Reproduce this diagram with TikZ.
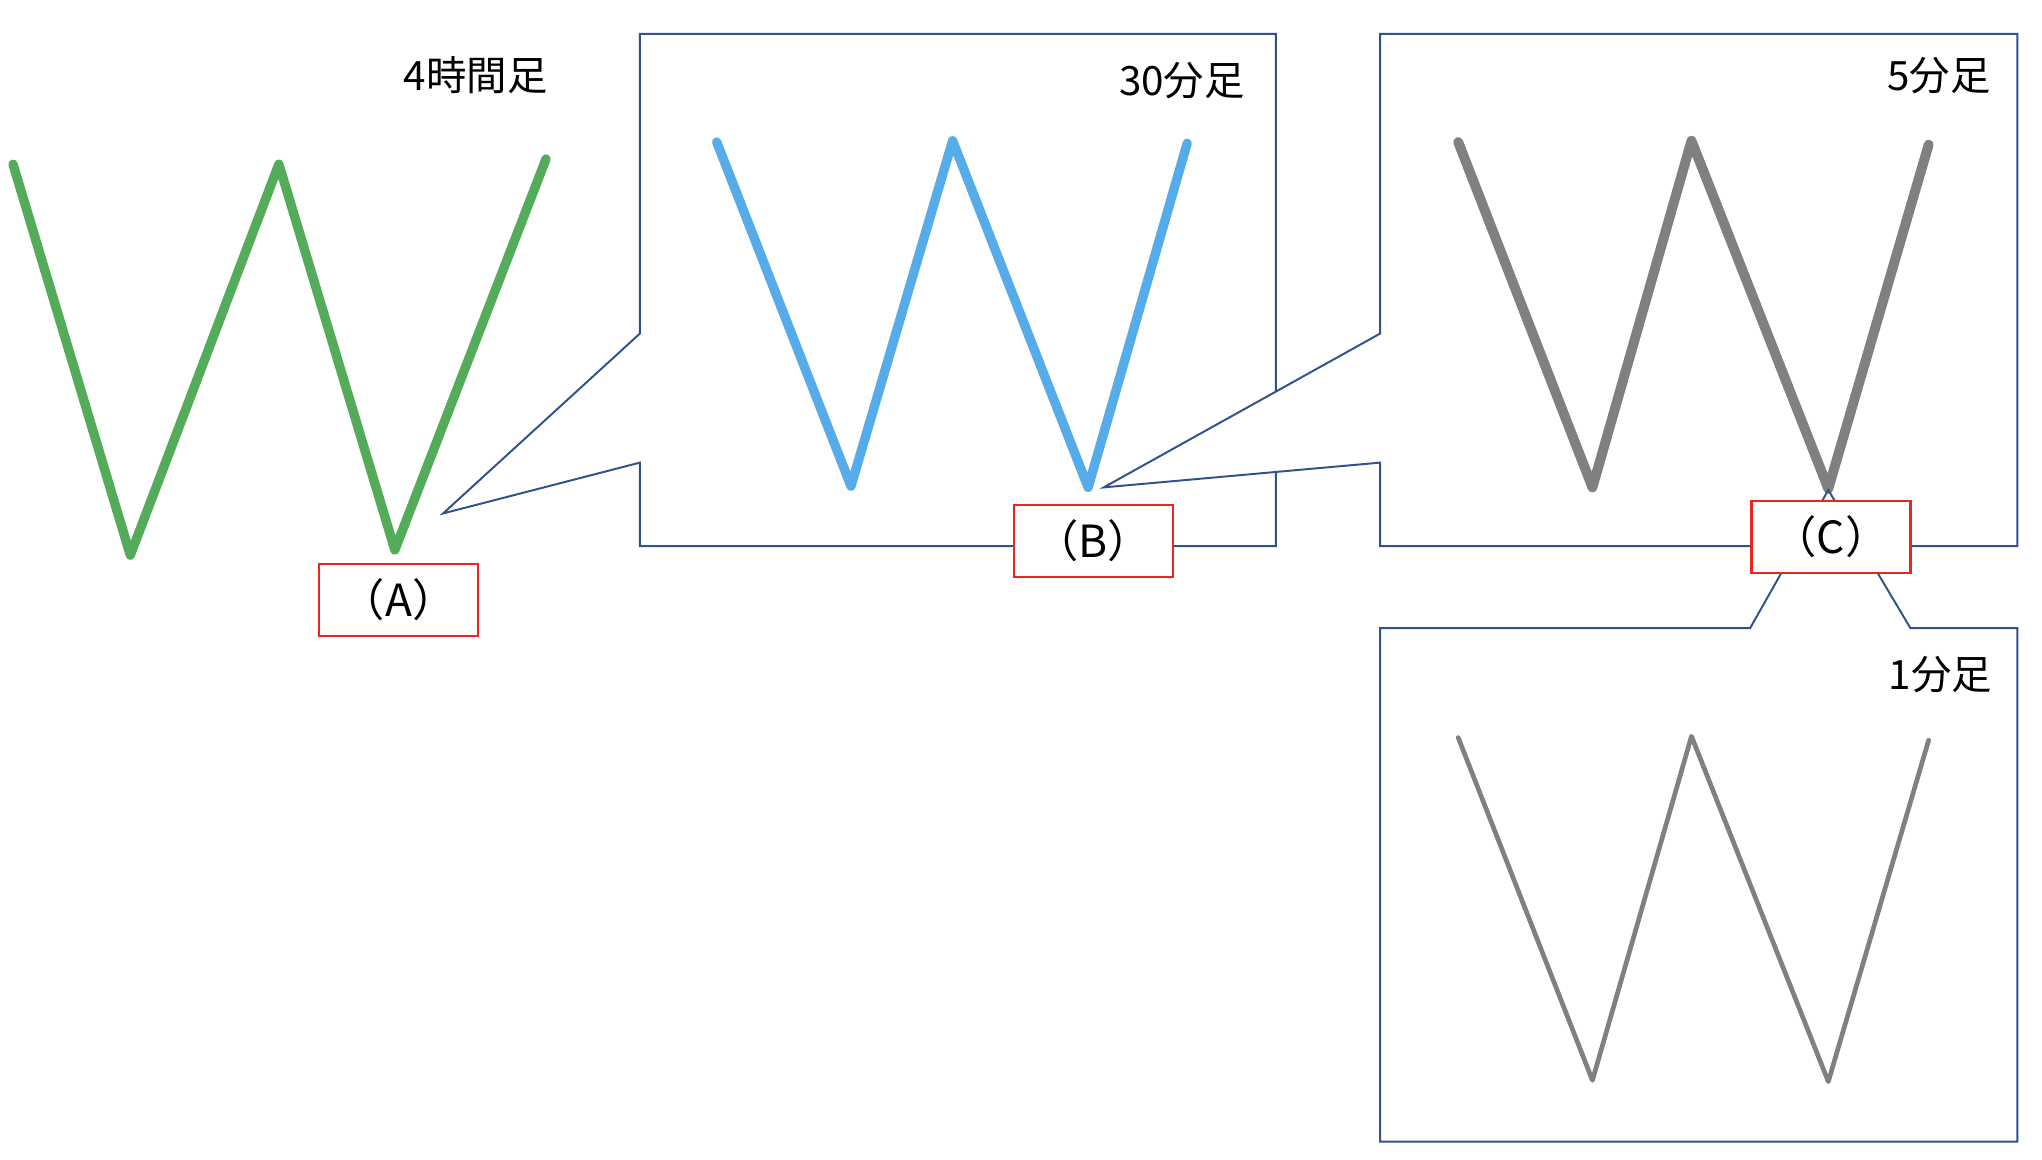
\documentclass[tikz,border=0pt]{standalone}
\usepackage{fontspec}
\setmainfont{Noto Sans CJK JP}
\definecolor{wgreen}{RGB}{84,171,90}
\definecolor{wblue}{RGB}{86,172,232}
\definecolor{wgray}{RGB}{128,128,128}
\definecolor{framecol}{RGB}{47,82,143}
\definecolor{tagred}{RGB}{232,38,30}
\tikzset{
  callout/.style={draw=framecol, line width=0.75pt, line join=miter},
  wline/.style={line width=3.6pt, line cap=round, line join=round},
  tag/.style={draw=tagred, line width=0.85pt, fill=white, minimum width=61pt, minimum height=27.5pt, inner sep=0pt, font=\fontsize{17}{17}\selectfont},
  tftitle/.style={inner sep=0pt, font=\fontsize{15.5}{15.5}\selectfont}
}
\begin{document}
\begin{tikzpicture}[x=0.5pt, y=-0.5pt]
\useasboundingbox (0,0) rectangle (1567,890);
% 4 hour chart
\draw[wline, wgreen] (10,126) -- (100,426) -- (214,126) -- (303,422) -- (419,122);
\node[tftitle] (t4h) at (365,58) {4時間足};
% 30 minute chart (callout to A)
\coordinate (pA) at (340,394);
\draw[callout, fill=white] (491,26) -- (979,26) -- (979,419) -- (491,419) -- (491,355) -- (pA) -- (491,256) -- cycle;
\draw[wline, wblue] (550,109) -- (653,373) -- (731,108) -- (835,374) -- (911,110);
\node[tftitle] (t30) at (907,62) {30分足};
\node[tag] (A) at (306,460.5) {（A）};
% 5 minute chart (callout to B)
\coordinate (pB) at (847,374);
\draw[callout, fill=white] (1059,26) -- (1548,26) -- (1548,419) -- (1059,419) -- (1059,355) -- (pB) -- (1059,256) -- cycle;
\draw[wline, wgray, line width=3.8pt] (1119,109) -- (1222,374) -- (1298,108) -- (1403,375) -- (1480,111);
\node[tftitle] (t5) at (1488,58) {5分足};
\node[tag] (B) at (839,415) {（B）};
% 1 minute chart (callout to C)
\coordinate (pC) at (1403,376);
\draw[callout] (1059,482) -- (1343,482) -- (pC) -- (1466,482) -- (1548,482) -- (1548,876) -- (1059,876) -- cycle;
\draw[wline, wgray, line width=1.8pt] (1119,566) -- (1222,829) -- (1298,565) -- (1403,830) -- (1480,568);
\node[tftitle] (t1) at (1489,518) {1分足};
\node[tag] (C) at (1405,412) {（C）};
\end{tikzpicture}
\end{document}
